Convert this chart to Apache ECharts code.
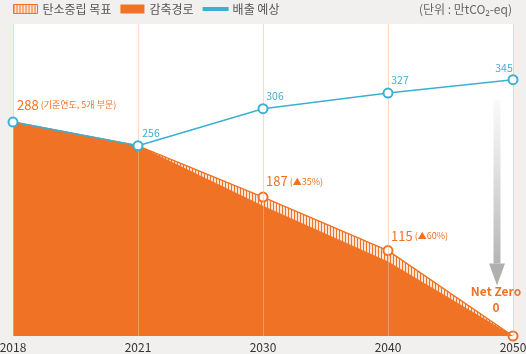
<!DOCTYPE html>
<html>
<head>
<meta charset="utf-8">
<script src="https://cdn.jsdelivr.net/npm/echarts@6/dist/echarts.min.js"></script>
<style>
  html, body { margin: 0; padding: 0; background: #f1f0ef; }
  #chart { width: 526px; height: 354px; }
</style>
</head>
<body>
<div id="chart"></div>
<script>
// 연도 / 값 (단위: 만tCO2-eq)
const years = ['2018', '2021', '2030', '2040', '2050'];
const targetPath = [288, 256, 187, 115, 0];      // 탄소중립 목표
const reductionPath = [288, 256, 175, 100, 0];   // 감축경로
const emissionForecast = [288, 256, 306, 327, 345]; // 배출 예상

const ORANGE = '#f07224';
const BLUE = '#3bb0d3';
const FONT = '"Noto Sans CJK KR", "Noto Sans", sans-serif';

// 빗금 패턴
function makeHatch() {
  const c = document.createElement('canvas');
  c.width = 3; c.height = 6;
  const ctx = c.getContext('2d');
  ctx.fillStyle = '#fde6d8';
  ctx.fillRect(0, 0, 3, 6);
  ctx.fillStyle = ORANGE;
  ctx.fillRect(0, 0, 1, 6);
  return { image: c, repeat: 'repeat' };
}
const hatch = makeHatch();

const chart = echarts.init(document.getElementById('chart'));

const richOrange = {
  b: { color: ORANGE, fontSize: 13, fontFamily: FONT },
  s: { color: ORANGE, fontSize: 9, fontFamily: FONT },
  n: { color: ORANGE, fontSize: 12, fontWeight: 'bold', fontFamily: FONT, align: 'center', lineHeight: 16 }
};

const targetLabels = [
  { show: false },
  { show: false },
  { show: true, position: 'top', align: 'left', offset: [3, 1],
    formatter: '{b|187}{s| (▲35%)}' },
  { show: true, position: 'top', align: 'left', offset: [3, 2],
    formatter: '{b|115}{s| (▲60%)}' },
  { show: true, position: 'top', align: 'center', offset: [-17, -10],
    formatter: '{n|Net Zero}\n{n|0}' }
];

const blueLabels = [
  { show: true, position: 'top', align: 'left', offset: [4, -2], rich: richOrange,
    formatter: '{b|288}{s| (기준연도, 5개 부문)}' },
  { show: true, offset: [13, 1] },
  { show: true, offset: [12, 1] },
  { show: true, offset: [12, 1] },
  { show: true, offset: [-9, 2] }
];

const option = {
  backgroundColor: '#f1f0ef',
  textStyle: { fontFamily: FONT },
  title: {
    text: '(단위 : 만tCO₂-eq)',
    right: 14, top: 3, padding: 0,
    textStyle: { fontSize: 12, color: '#666', fontWeight: 'normal', fontFamily: FONT }
  },
  legend: {
    left: 13, top: 3, padding: 0,
    itemWidth: 24, itemHeight: 9, itemGap: 9,
    textStyle: { fontSize: 12, color: '#555', fontFamily: FONT },
    data: [
      { name: '탄소중립 목표', icon: 'rect',
        itemStyle: { color: hatch, borderColor: ORANGE, borderWidth: 1 } },
      { name: '감축경로', icon: 'rect', itemStyle: { color: ORANGE } },
      { name: '배출 예상', icon: 'path://M0 0H24V2H0Z', itemStyle: { color: BLUE } }
    ]
  },
  grid: {
    left: 13, right: 13, top: 24, bottom: 18,
    outerBoundsMode: 'none',
    show: true, backgroundColor: '#fff', borderWidth: 0
  },
  xAxis: {
    type: 'category',
    data: years,
    boundaryGap: false,
    z: 5,
    axisLine: { show: false },
    axisTick: { show: false },
    axisLabel: { color: '#333', fontSize: 12, margin: 5, fontFamily: FONT },
    splitLine: { show: true, lineStyle: { color: 'rgba(248,186,150,0.55)', width: 1 } }
  },
  yAxis: {
    type: 'value',
    min: 0, max: 420,
    show: false,
    splitLine: { show: false }
  },
  series: [
    {
      name: '탄소중립 목표',
      type: 'line',
      data: targetPath.map((v, i) => ({
        value: v,
        symbol: i >= 2 ? 'circle' : 'none',
        label: targetLabels[i]
      })),
      z: 3,
      symbolSize: 9,
      itemStyle: { color: '#fff', borderColor: ORANGE, borderWidth: 2 },
      lineStyle: { color: ORANGE, width: 1.5 },
      areaStyle: { color: hatch, opacity: 1 },
      label: { rich: richOrange },
      emphasis: { disabled: true }
    },
    {
      name: '감축경로',
      type: 'line',
      data: reductionPath,
      z: 4,
      symbol: 'none',
      itemStyle: { color: ORANGE },
      lineStyle: { color: ORANGE, width: 0.5 },
      areaStyle: { color: ORANGE, opacity: 1 },
      emphasis: { disabled: true }
    },
    {
      name: '배출 예상',
      type: 'line',
      data: emissionForecast.map((v, i) => ({ value: v, label: blueLabels[i] })),
      z: 6,
      symbol: 'circle',
      symbolSize: 9,
      itemStyle: { color: '#fff', borderColor: BLUE, borderWidth: 2 },
      lineStyle: { color: BLUE, width: 1.5 },
      label: { position: 'top', color: BLUE, fontSize: 10.5, fontFamily: FONT, distance: 3 },
      emphasis: { disabled: true }
    }
  ]
};

chart.setOption(option);

// 회색 화살표 (2050 왼쪽)
const arrowTop = chart.convertToPixel({ gridIndex: 0 }, ['2050', 318]);
const arrowTip = chart.convertToPixel({ gridIndex: 0 }, ['2050', 68]);
const ax = arrowTop[0] - 16;
const headTop = arrowTip[1] - 22;
chart.setOption({
  graphic: [
    {
      type: 'rect', z: 10,
      shape: { x: ax - 3.5, y: arrowTop[1], width: 7, height: headTop - arrowTop[1] },
      style: {
        fill: new echarts.graphic.LinearGradient(0, 0, 0, 1, [
          { offset: 0, color: 'rgba(200,200,200,0.1)' },
          { offset: 1, color: '#b4b4b4' }
        ])
      }
    },
    {
      type: 'polygon', z: 10,
      shape: { points: [[ax - 8, headTop], [ax + 8, headTop], [ax, arrowTip[1]]] },
      style: { fill: '#b0b0b0' }
    }
  ]
});
</script>
</body>
</html>
